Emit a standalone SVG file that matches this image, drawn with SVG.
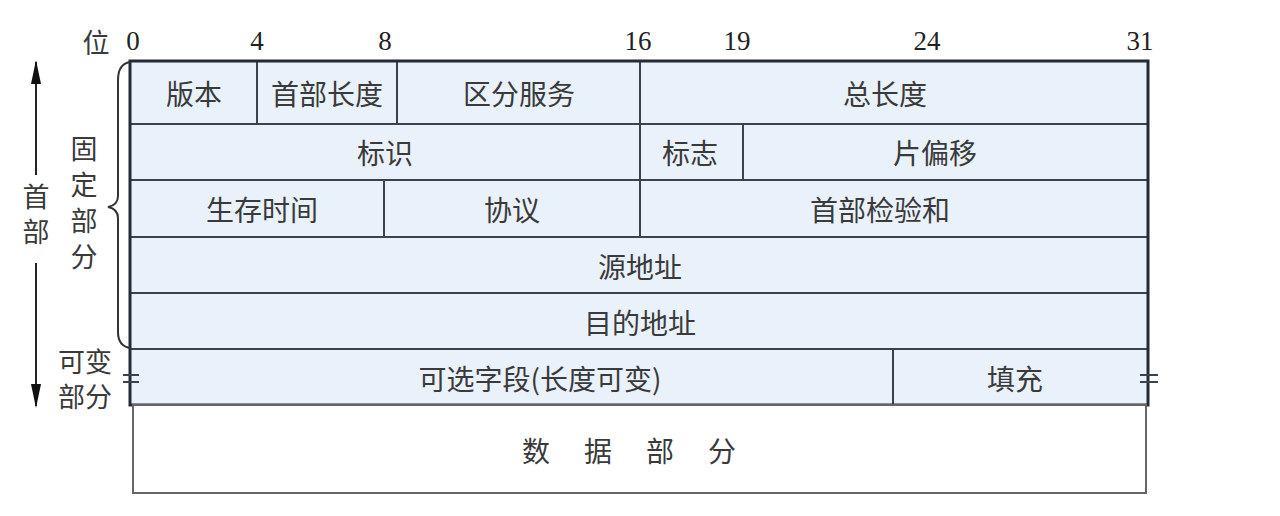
<svg xmlns="http://www.w3.org/2000/svg" width="1280" height="516" viewBox="0 0 1280 516">
<defs>
<style>
.cn{font-family:"Noto Sans CJK SC","Noto Sans",sans-serif;font-size:28px;fill:#3a3a3a;text-anchor:middle;dominant-baseline:central}
.cn2{font-family:"Liberation Sans","Noto Sans CJK SC",sans-serif;font-size:27px;fill:#3a3a3a;text-anchor:middle;dominant-baseline:central}
.vt{font-family:"Noto Sans CJK SC","Noto Sans",sans-serif;font-size:27px;fill:#3a3a3a;text-anchor:middle;writing-mode:vertical-rl}
.num{font-family:"Liberation Serif","Times New Roman",serif;font-size:27px;fill:#222;text-anchor:middle}
.cell{fill:#e9f1fa;stroke:#3a4250;stroke-width:2}
.in{stroke:#3a4250;stroke-width:2;fill:none}
.ln{stroke:#222;stroke-width:2;fill:none}
</style>
<marker id="ah" viewBox="0 0 24 10" refX="22" refY="5" markerWidth="24" markerHeight="10" markerUnits="userSpaceOnUse" orient="auto">
<path d="M0,0 L24,5 L0,10 Z" fill="#111"/>
</marker>
</defs>
<rect width="1280" height="516" fill="#fff"/>

<g id="bit-labels">
<text class="cn" x="96" y="41" style="font-size:27px">位</text>
<text class="num" x="133" y="50">0</text>
<text class="num" x="257" y="50">4</text>
<text class="num" x="385" y="50">8</text>
<text class="num" x="638" y="50">16</text>
<text class="num" x="737" y="50">19</text>
<text class="num" x="927" y="50">24</text>
<text class="num" x="1140" y="50">31</text>
</g>

<g id="header-bg">
<rect x="130" y="61" width="1018" height="344" fill="#e9f1fa"/>
</g>

<g id="row1">
<rect id="version" class="cell" x="130" y="61" width="127" height="63"/>
<text class="cn" x="194" y="93">版本</text>
<rect id="ihl" class="cell" x="257" y="61" width="140" height="63"/>
<text class="cn" x="327" y="93">首部长度</text>
<rect id="tos" class="cell" x="397" y="61" width="243" height="63"/>
<text class="cn" x="519" y="93">区分服务</text>
<rect id="total-length" class="cell" x="640" y="61" width="508" height="63"/>
<text class="cn" x="885" y="93">总长度</text>
</g>

<g id="row2">
<rect id="identification" class="cell" x="130" y="124" width="510" height="56"/>
<text class="cn" x="385" y="152">标识</text>
<rect id="flags" class="cell" x="640" y="124" width="103" height="56"/>
<text class="cn" x="690" y="152">标志</text>
<rect id="fragment-offset" class="cell" x="743" y="124" width="405" height="56"/>
<text class="cn" x="935" y="152">片偏移</text>
</g>

<g id="row3">
<rect id="ttl" class="cell" x="130" y="180" width="254" height="57"/>
<text class="cn" x="262" y="209">生存时间</text>
<rect id="protocol" class="cell" x="384" y="180" width="256" height="57"/>
<text class="cn" x="512" y="209">协议</text>
<rect id="checksum" class="cell" x="640" y="180" width="508" height="57"/>
<text class="cn" x="880" y="209">首部检验和</text>
</g>

<g id="row4">
<rect id="src" class="cell" x="130" y="237" width="1018" height="56"/>
<text class="cn" x="640" y="266">源地址</text>
</g>

<g id="row5">
<rect id="dst" class="cell" x="130" y="293" width="1018" height="56"/>
<text class="cn" x="640" y="322">目的地址</text>
</g>

<g id="row6">
<rect id="options" class="cell" x="130" y="349" width="763" height="56"/>
<text class="cn" x="540" y="378">可选字段(长度可变)</text>
<rect id="padding" class="cell" x="893" y="349" width="255" height="56"/>
<text class="cn" x="1015" y="378">填充</text>
</g>

<g id="header-border">
<rect x="130" y="61" width="1018" height="344" fill="none" stroke="#252b35" stroke-width="3"/>
</g>

<g id="data">
<rect x="133" y="405" width="1013" height="88" fill="#fff" stroke="#666" stroke-width="2"/>
<text class="cn" x="646" y="450" style="letter-spacing:34px">数据部分</text>
</g>

<g id="side-labels">
<text class="vt" x="84" y="207" style="letter-spacing:9px">固定部分</text>
<text class="vt" x="36" y="218" style="letter-spacing:8px">首部</text>
<text class="cn2" x="85" y="363">可变</text>
<text class="cn2" x="85" y="398">部分</text>
</g>

<g id="connectors">
<path class="ln" d="M36,175 L36,62" marker-end="url(#ah)"/>
<path class="ln" d="M36,263 L36,406" marker-end="url(#ah)"/>
<path id="brace" d="M130,62 Q118,64 118,80 L118,196 Q118,205 108,207 Q118,209 118,218 L118,332 Q118,346 130,348" fill="none" stroke="#333" stroke-width="2"/>
<path class="in" d="M123,375 L139,375 M123,382 L139,382"/>
<path class="in" d="M1140,375 L1158,375 M1140,382 L1158,382"/>
</g>
</svg>
